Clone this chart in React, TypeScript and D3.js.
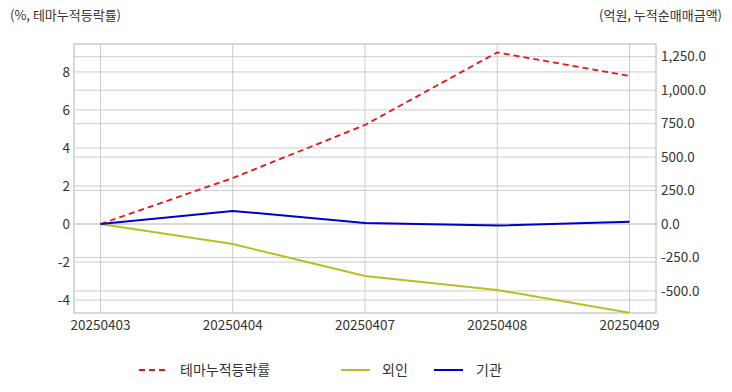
import * as d3 from "d3";

const dates = ["20250403", "20250404", "20250407", "20250408", "20250409"];
const themeRate = [0, 2.42, 5.21, 9.03, 7.79];
const foreign = [0, -150, -388, -493, -663];
const institution = [0, 98, 7, -12, 16];
const leftTicks = [-4, -2, 0, 2, 4, 6, 8];
const rightTicks = [-500, -250, 0, 250, 500, 750, 1000, 1250];

const font = "'Noto Sans CJK KR', 'Noto Sans', sans-serif";

export default function App() {
  const width = 732;
  const height = 392;
  const left = 74;
  const right = 656;
  const top = 44;
  const bottom = 313;

  const x = d3.scaleLinear().domain([-0.2, dates.length - 1 + 0.2]).range([left, right]);
  const yL = d3.scaleLinear().domain([-4.68, 9.47]).range([bottom, top]);
  const yR = d3.scaleLinear().domain([-665, 1345]).range([bottom, top]);

  const lineL = d3
    .line<number>()
    .x((_, i) => x(i))
    .y((d) => yL(d));
  const lineR = d3
    .line<number>()
    .x((_, i) => x(i))
    .y((d) => yR(d));

  const grid = "#cccccc";
  const text = "#333333";

  return (
    <svg
      width={width}
      height={height}
      style={{ position: "absolute", left: 0, top: 0, background: "#fff" }}
      fontFamily={font}
    >
      <rect x={0} y={0} width={width} height={height} fill="#fff" />
      {leftTicks.map((t) => (
        <line key={`l${t}`} x1={left} x2={right} y1={yL(t)} y2={yL(t)} stroke={grid} strokeWidth={1} />
      ))}
      {rightTicks.map((t) => (
        <line key={`r${t}`} x1={left} x2={right} y1={yR(t)} y2={yR(t)} stroke={grid} strokeWidth={1} />
      ))}
      {dates.map((d, i) => (
        <line key={d} x1={x(i)} x2={x(i)} y1={top} y2={bottom} stroke={grid} strokeWidth={1} />
      ))}
      <rect
        x={left}
        y={top}
        width={right - left}
        height={bottom - top}
        fill="none"
        stroke={grid}
        strokeWidth={1.5}
      />

      <path d={lineL(themeRate) ?? ""} fill="none" stroke="#ee1111" strokeWidth={1.8} strokeDasharray="6 4" />
      <path d={lineR(foreign) ?? ""} fill="none" stroke="#bcbd22" strokeWidth={2} />
      <path d={lineR(institution) ?? ""} fill="none" stroke="#0000cc" strokeWidth={2} />

      {leftTicks.map((t) => (
        <text key={`lt${t}`} x={left - 4} y={yL(t)} dy="0.35em" textAnchor="end" fontSize={13.5} fill={text}>
          {t}
        </text>
      ))}
      {rightTicks.map((t) => (
        <text key={`rt${t}`} x={right + 5} y={yR(t)} dy="0.35em" fontSize={13.5} fill={text}>
          {d3.format(",.1f")(t).replace("−", "-")}
        </text>
      ))}
      {dates.map((d, i) => (
        <text key={`xt${d}`} x={x(i)} y={bottom + 17} textAnchor="middle" fontSize={13.5} fill={text}>
          {d}
        </text>
      ))}

      <text x={10} y={20} fontSize={13} fill={text}>
        (%, 테마누적등락률)
      </text>
      <text x={722} y={20} textAnchor="end" fontSize={13} fill={text}>
        (억원, 누적순매매금액)
      </text>

      <g fontSize={14} fill={text}>
        <line x1={139} x2={168} y1={370} y2={370} stroke="#ee1111" strokeWidth={1.8} strokeDasharray="6 4" />
        <text x={180} y={370} dy="0.35em">테마누적등락률</text>
        <line x1={341} x2={370} y1={370} y2={370} stroke="#bcbd22" strokeWidth={2} />
        <text x={382} y={370} dy="0.35em">외인</text>
        <line x1={434} x2={463} y1={370} y2={370} stroke="#0000cc" strokeWidth={2} />
        <text x={476} y={370} dy="0.35em">기관</text>
      </g>
    </svg>
  );
}
